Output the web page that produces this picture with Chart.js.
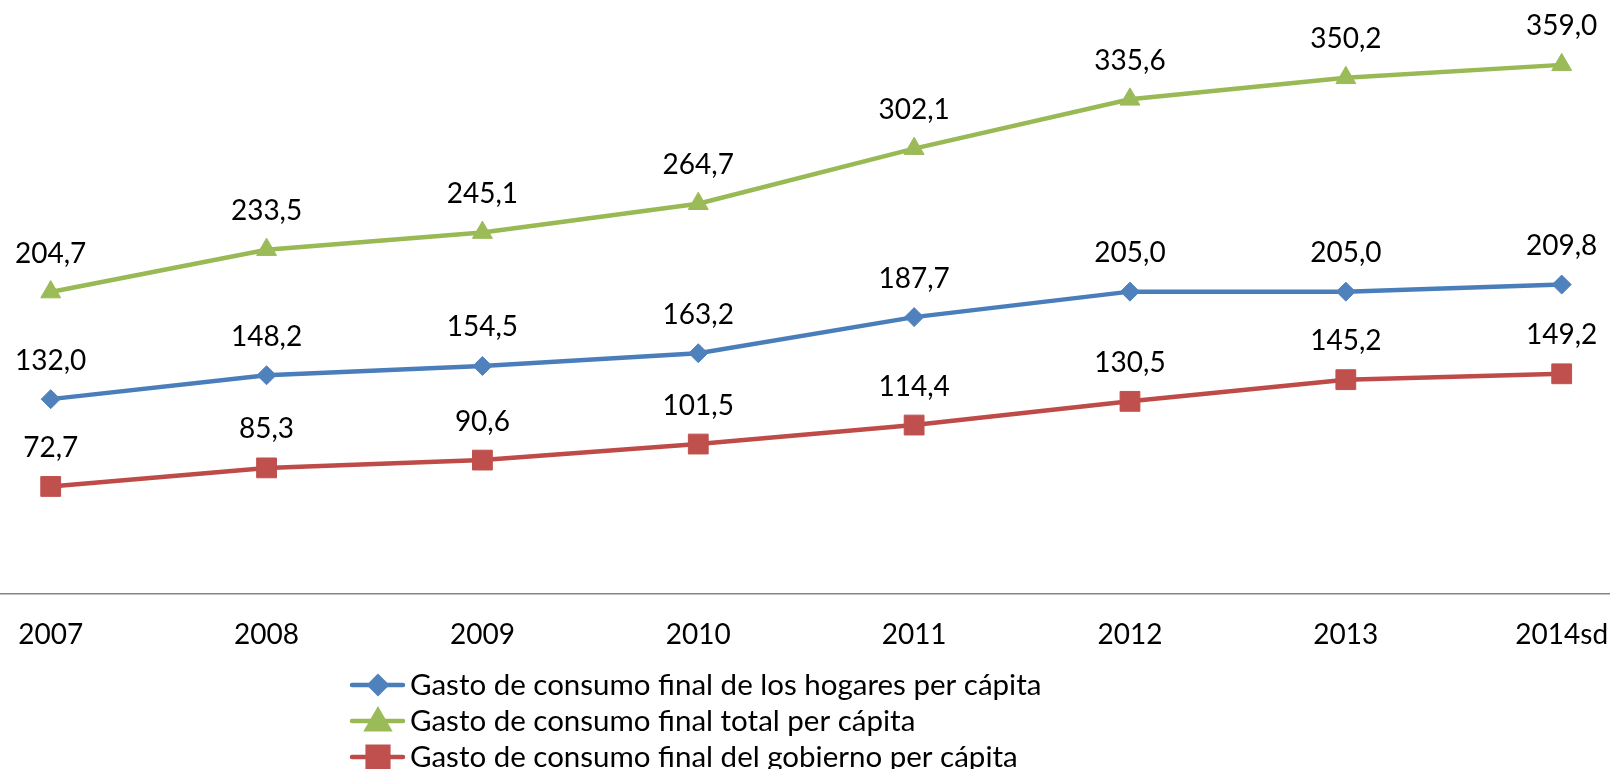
<!DOCTYPE html>
<html>
<head>
<meta charset="utf-8">
<script src="https://cdn.jsdelivr.net/npm/chart.js@4/dist/chart.umd.min.js"></script>
<style>
  html, body { margin: 0; padding: 0; background: #ffffff; }
  #wrap { width: 1610px; height: 769px; position: relative; }
</style>
</head>
<body>
<div id="wrap"><canvas id="c" width="1610" height="769"></canvas></div>
<script>
const years = ['2007', '2008', '2009', '2010', '2011', '2012', '2013', '2014sd'];
const hogares = [132.0, 148.2, 154.5, 163.2, 187.7, 205.0, 205.0, 209.8];
const total = [204.7, 233.5, 245.1, 264.7, 302.1, 335.6, 350.2, 359.0];
const gobierno = [72.7, 85.3, 90.6, 101.5, 114.4, 130.5, 145.2, 149.2];
const seriesNames = [
  'Gasto de consumo final de los hogares per cápita',
  'Gasto de consumo final total per cápita',
  'Gasto de consumo final del gobierno per cápita'
];

const FONT = 'Lato';
const FSIZE = 28;
const LEGEND_SIZE = 29.5;

function toPoints(arr) { return arr.map((v, i) => ({ x: i, y: v })); }
function fmt(v) { return v.toFixed(1).replace('.', ','); }

const dataLabels = {
  id: 'dataLabels',
  afterDatasetsDraw(chart) {
    const ctx = chart.ctx;
    ctx.save();
    ctx.font = FSIZE + 'px ' + FONT;
    ctx.fillStyle = '#000000';
    ctx.textAlign = 'center';
    ctx.textBaseline = 'alphabetic';
    chart.data.datasets.forEach((ds, di) => {
      const meta = chart.getDatasetMeta(di);
      meta.data.forEach((el, i) => {
        ctx.fillText(fmt(ds.data[i].y), el.x, el.y - 29.5);
      });
    });
    ctx.restore();
  }
};

const customLegend = {
  id: 'customLegend',
  afterDraw(chart) {
    const ctx = chart.ctx;
    const rows = [685, 721, 757];
    const radii = [8.3, 12.5, 14.6];
    ctx.save();
    chart.data.datasets.forEach((ds, di) => {
      const y = rows[di];
      ctx.strokeStyle = ds.borderColor;
      ctx.lineWidth = ds.borderWidth;
      ctx.lineCap = 'round';
      ctx.beginPath();
      ctx.moveTo(352, y);
      ctx.lineTo(403, y);
      ctx.stroke();
      ctx.fillStyle = ds.pointBackgroundColor;
      ctx.strokeStyle = ds.pointBorderColor;
      Chart.helpers.drawPoint(ctx, {
        pointStyle: ds.pointStyle, radius: radii[di], rotation: 0, borderWidth: 1
      }, 378, ds.pointStyle === 'triangle' ? y + 2 : y);
      ctx.font = LEGEND_SIZE + 'px ' + FONT;
      ctx.fillStyle = '#000000';
      ctx.textAlign = 'left';
      ctx.textBaseline = 'alphabetic';
      ctx.fillText(ds.label, 410, y + 9.5);
    });
    ctx.restore();
  }
};

new Chart(document.getElementById('c'), {
  type: 'line',
  data: {
    datasets: [
      {
        label: seriesNames[0],
        data: toPoints(hogares),
        borderColor: '#4A7EBB',
        borderWidth: 4.5,
        pointStyle: 'rectRot',
        pointRadius: 9.5,
        pointBackgroundColor: '#4F81BD',
        pointBorderColor: '#4F81BD',
        pointBorderWidth: 1,
        tension: 0
      },
      {
        label: seriesNames[1],
        data: toPoints(total),
        borderColor: '#98B954',
        borderWidth: 4.5,
        pointStyle: 'triangle',
        pointRadius: 11.5,
        pointBackgroundColor: '#9BBB59',
        pointBorderColor: '#9BBB59',
        pointBorderWidth: 1,
        tension: 0
      },
      {
        label: seriesNames[2],
        data: toPoints(gobierno),
        borderColor: '#BE4B48',
        borderWidth: 4.5,
        pointStyle: 'rect',
        pointRadius: 14,
        pointBackgroundColor: '#C0504D',
        pointBorderColor: '#C0504D',
        pointBorderWidth: 1,
        tension: 0
      }
    ]
  },
  options: {
    responsive: false,
    animation: false,
    devicePixelRatio: 1,
    layout: { autoPadding: false, padding: { top: 4.5, left: 0, right: 0, bottom: 115.5 } },
    plugins: {
      legend: { display: false },
      tooltip: { enabled: false }
    },
    scales: {
      x: {
        type: 'linear',
        min: -0.2349,
        max: 7.2238,
        grid: { display: false, drawTicks: false },
        border: { display: true, color: '#868686', width: 1.5 },
        afterBuildTicks: (scale) => { scale.ticks = years.map((_, i) => ({ value: i })); },
        afterFit: (scale) => {
          scale.height = 60;
          scale.paddingLeft = 0;
          scale.paddingRight = 0;
        },
        ticks: {
          autoSkip: false,
          maxRotation: 0,
          padding: 25,
          color: '#000000',
          font: { family: FONT, size: FSIZE },
          callback: (v) => years[v]
        }
      },
      y: {
        display: false,
        min: 0,
        max: 400
      }
    }
  },
  plugins: [dataLabels, customLegend]
});
</script>
</body>
</html>
